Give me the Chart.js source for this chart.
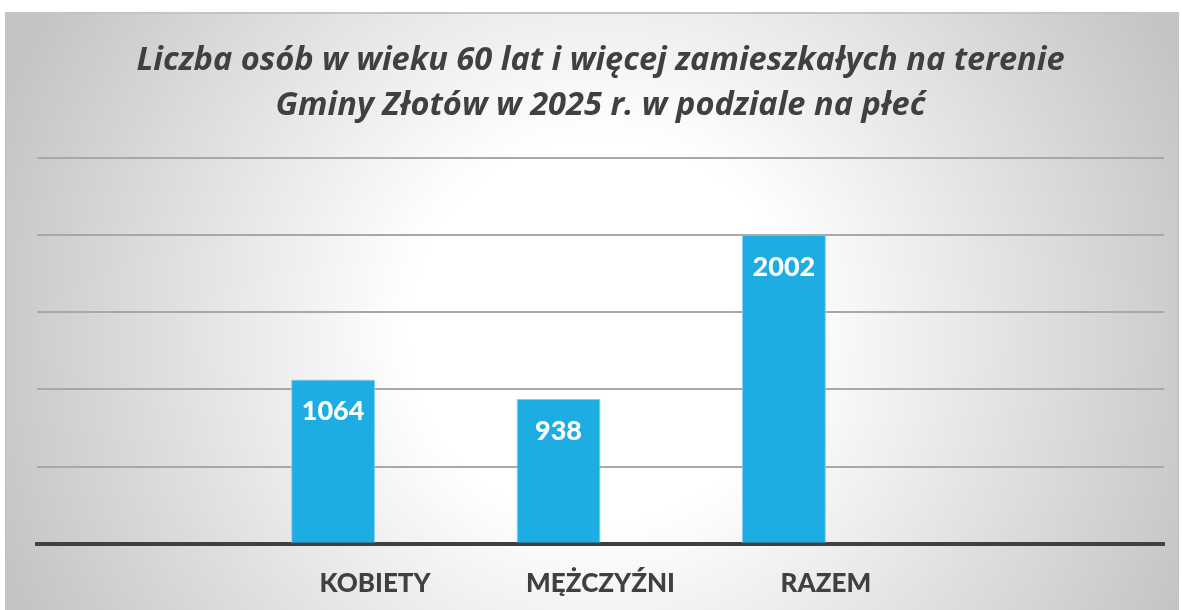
<!DOCTYPE html>
<html>
<head>
<meta charset="utf-8">
<script src="https://cdn.jsdelivr.net/npm/chart.js@4/dist/chart.umd.min.js"></script>
<style>
  html, body { margin: 0; padding: 0; background: #fff; }
  #wrap { width: 1182px; height: 610px; }
</style>
</head>
<body>
<div id="wrap"><canvas id="chart" width="1182" height="610"></canvas></div>
<script>
const categories = ['', 'KOBIETY', 'MĘŻCZYŹNI', 'RAZEM', ''];
const values = [null, 1064, 938, 2002, null];
const emptySeries = [null, null, null, null, null];
const yTicks = [0, 500, 1000, 1500, 2000, 2500];
const titleLines = ['Liczba osób w wieku 60 lat i więcej zamieszkałych na terenie', 'Gminy Złotów w 2025 r. w podziale na płeć'];

const textColor = '#404040';
const font = 'Lato, "Open Sans", sans-serif';
const titleFont = '"Open Sans", Lato, sans-serif';

// background: light radial gradient with thin grey frame
const backgroundPlugin = {
  id: 'background',
  beforeDraw(chart) {
    const c = chart.ctx;
    c.save();
    const g = c.createRadialGradient(600, 330, 0, 600, 330, 640);
    g.addColorStop(0, '#ffffff');
    g.addColorStop(0.3, '#ffffff');
    g.addColorStop(1, '#c4c4c4');
    c.fillStyle = g;
    c.fillRect(6, 13, 1172, 600);
    c.strokeStyle = '#c4c4c4';
    c.lineWidth = 2;
    c.strokeRect(6, 13, 1172, 600);
    c.restore();
  }
};

// value labels inside the top of each bar
const valueLabels = {
  id: 'valueLabels',
  afterDatasetsDraw(chart) {
    const c = chart.ctx;
    const meta = chart.getDatasetMeta(0);
    c.save();
    c.fillStyle = '#ffffff';
    c.font = '900 27px ' + font;
    c.textAlign = 'center';
    c.textBaseline = 'middle';
    meta.data.forEach((bar, i) => {
      const v = values[i];
      if (v == null) return;
      c.fillText(String(v), bar.x, bar.y + 32);
    });
    c.restore();
  }
};

new Chart(document.getElementById('chart'), {
  type: 'bar',
  data: {
    labels: categories,
    datasets: [{
      label: 'Liczba osób',
      data: values,
      backgroundColor: '#1eade3',
      borderColor: '#7fd0f0',
      borderWidth: 1,
      barPercentage: 1,
      categoryPercentage: 0.745
    }, {
      label: '',
      data: emptySeries,
      backgroundColor: '#1eade3',
      barPercentage: 1,
      categoryPercentage: 0.745
    }]
  },
  options: {
    responsive: false,
    animation: false,
    layout: { padding: { left: 37, right: 18, top: 0, bottom: -13 } },
    plugins: {
      legend: { display: false },
      tooltip: { enabled: false },
      title: {
        display: true,
        text: titleLines,
        color: textColor,
        font: { family: titleFont, size: 32.6, weight: 'bold', style: 'italic', lineHeight: 1.38 },
        padding: { top: 38, bottom: 30 }
      }
    },
    scales: {
      x: {
        grid: { display: false, drawTicks: false },
        border: { display: true, color: textColor, width: 4 },
        ticks: {
          color: textColor,
          padding: 24,
          font: { family: font, size: 26, weight: '900' }
        }
      },
      y: {
        min: yTicks[0],
        max: yTicks[yTicks.length - 1],
        afterBuildTicks(axis) { axis.ticks = yTicks.map(v => ({ value: v })); },
        ticks: { display: false },
        grid: { color: '#a8a8a8', lineWidth: 2, drawTicks: false },
        border: { display: false }
      }
    }
  },
  plugins: [backgroundPlugin, valueLabels]
});
</script>
</body>
</html>
